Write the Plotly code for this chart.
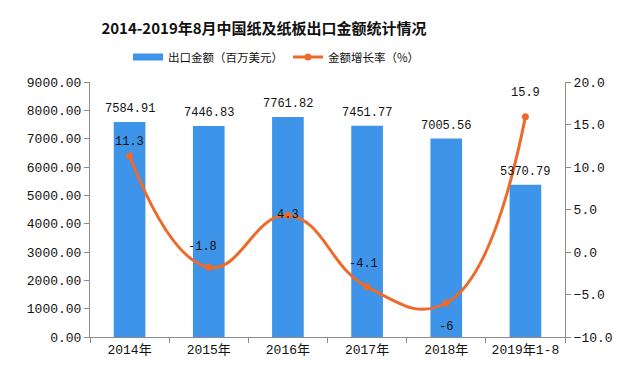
import plotly.graph_objects as go

categories = ["2014年", "2015年", "2016年", "2017年", "2018年", "2019年1-8"]
export_amount = [7584.91, 7446.83, 7761.82, 7451.77, 7005.56, 5370.79]
export_labels = ["7584.91", "7446.83", "7761.82", "7451.77", "7005.56", "5370.79"]
growth_rate = [11.3, -1.8, 4.3, -4.1, -6, 15.9]
growth_labels = ["11.3", "-1.8", "4.3", "-4.1", "-6", "15.9"]

bar_name = "出口金额（百万美元）"
line_name = "金额增长率（%）"
title_text = "2014-2019年8月中国纸及纸板出口金额统计情况"

# label styling (offsets in px)
label_yshift = [14, 20, 0, 23, -24, 24]
label_xshift = [0, -6, 0, -4, 0, 0]
bar_label_yshift = 13

FONT = "Liberation Mono, Noto Sans CJK SC, monospace"
BAR_COLOR = "#3D94E8"
LINE_COLOR = "#ED6A2A"
AXIS_COLOR = "#8c8c8c"

W, H = 635, 365
OFF = 8  # page body margin
PLOT_L, PLOT_R, PLOT_T, PLOT_B = 90 - OFF, 565 - OFF, 82 - OFF, 337 - OFF

fig = go.Figure()
fig.add_trace(go.Bar(
    x=categories, y=export_amount, name=bar_name, showlegend=False,
    marker=dict(color=BAR_COLOR, line=dict(width=0)),
    width=0.4,
))
# legend entry for the bars drawn as a wide rectangle
fig.add_trace(go.Scatter(
    x=[None], y=[None], name=bar_name, mode="lines",
    line=dict(color=BAR_COLOR, width=7),
))
fig.add_trace(go.Scatter(
    x=categories, y=growth_rate, name=line_name, yaxis="y2",
    mode="lines+markers",
    line=dict(color=LINE_COLOR, width=3, shape="spline", smoothing=1.3),
    marker=dict(color=LINE_COLOR, size=7),
    cliponaxis=False,
))

for c, v, t in zip(categories, export_amount, export_labels):
    fig.add_annotation(x=c, y=v, yref="y", xref="x", text=t, showarrow=False,
                       yshift=bar_label_yshift,
                       font=dict(family=FONT, size=12, color="#111"))

for c, v, t, ys, xs in zip(categories, growth_rate, growth_labels, label_yshift, label_xshift):
    fig.add_annotation(x=c, y=v, yref="y2", xref="x", text=t, showarrow=False,
                       yshift=ys, xshift=xs,
                       font=dict(family=FONT, size=12, color="#111"))

legend_y = (PLOT_B - (57 - OFF)) / (PLOT_B - PLOT_T)
legend_x = ((128 - OFF) - PLOT_L) / (PLOT_R - PLOT_L)

fig.update_layout(
    width=W, height=H,
    margin=dict(l=PLOT_L, r=W - PLOT_R, t=PLOT_T, b=H - PLOT_B, autoexpand=False),
    paper_bgcolor="white", plot_bgcolor="white",
    title=dict(text="<b>" + title_text + "</b>", x=(264 - OFF) / W, xanchor="center",
               y=1 - (29 - OFF) / H, yanchor="middle",
               font=dict(family="Noto Sans CJK SC", size=15, color="#111")),
    legend=dict(orientation="h", x=legend_x, xanchor="left", y=legend_y, yanchor="middle",
                font=dict(family="Noto Sans CJK SC", size=11.5, color="#111"),
                itemwidth=30, bgcolor="rgba(0,0,0,0)", traceorder="normal"),
    xaxis=dict(showline=True, linecolor=AXIS_COLOR, linewidth=1, ticks="outside",
               tickson="boundaries", ticklen=5, tickcolor=AXIS_COLOR,
               tickfont=dict(family=FONT, size=13, color="#111"), showgrid=False),
    yaxis=dict(range=[0, 9000], dtick=1000, tickformat=".2f", showline=True,
               linecolor=AXIS_COLOR, ticks="outside", ticklen=5, tickcolor=AXIS_COLOR,
               showgrid=False, zeroline=False,
               tickfont=dict(family=FONT, size=13, color="#111")),
    yaxis2=dict(range=[-10, 20], dtick=5, tickformat=".1f", overlaying="y", side="right",
                showline=True, linecolor=AXIS_COLOR, ticks="outside", ticklen=5,
                tickcolor=AXIS_COLOR, showgrid=False, zeroline=False,
                tickfont=dict(family=FONT, size=13, color="#111")),
)

fig.write_html("out.html")
